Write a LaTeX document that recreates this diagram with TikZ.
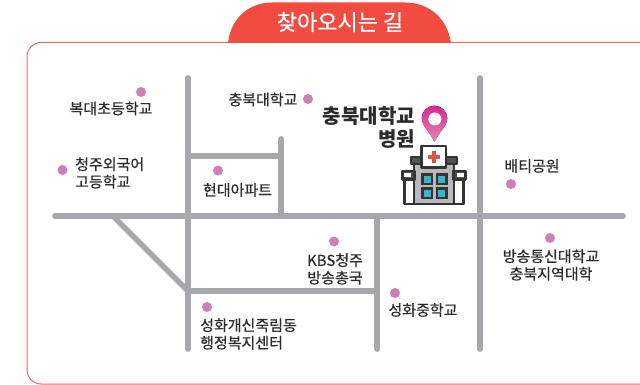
\documentclass[tikz,border=0pt]{standalone}
\usepackage{fontspec}
\setmainfont{Noto Sans CJK KR}
\newfontfamily\medfont[FakeBold=0.5]{Noto Sans CJK KR}
\definecolor{roadc}{HTML}{A7A8AC}
\definecolor{redc}{HTML}{F24C40}
\definecolor{edgec}{HTML}{F4675C}
\definecolor{dotc}{HTML}{CE7FB8}
\definecolor{inkc}{HTML}{2B2B2B}
\definecolor{iconc}{HTML}{333434}
\definecolor{pinA}{HTML}{D6268F}
\definecolor{pinB}{HTML}{E58AB0}
\definecolor{tealc}{HTML}{3FB2C9}
\definecolor{crossc}{HTML}{D9534F}
\tikzset{
 road/.style={draw=roadc,line width=5.6pt,line cap=round},
 placedot/.style={circle,fill=dotc,inner sep=0pt,minimum size=10pt},
 lbl/.style={font=\medfont\fontsize{15}{17.5}\selectfont,text=inkc,align=center,inner sep=0pt},
 iconline/.style={draw=iconc,line width=2.4pt,line join=round},
 win/.style={fill=tealc,draw=iconc,line width=2.6pt}
}
\begin{document}
\begin{tikzpicture}[x=1pt,y=-1pt]
\useasboundingbox (0,0) rectangle (640,385);
\fill[white] (0,0) rectangle (640,385);
\draw[edgec,line width=1pt] (640,42.5) -- (41,42.5) arc[start angle=270,end angle=180,radius=14] -- (27,370) arc[start angle=180,end angle=90,radius=14] -- (640,384);
\fill[redc] (228,43) .. controls (231,17) and (250,2.5) .. (272,2.5) -- (405,2.5) .. controls (428,2.5) and (447,17) .. (451,43) -- cycle;
\node[font=\medfont\fontsize{22}{24}\selectfont,text=white,inner sep=0pt] (title) at (340,22) {찾아오시는 길};
% roads
\coordinate (rA) at (188,78); \coordinate (rB) at (188,349);
\coordinate (rC) at (480,78); \coordinate (rD) at (480,349);
\coordinate (rE) at (55,216); \coordinate (rF) at (623,216);
\coordinate (rG) at (188,156); \coordinate (rH) at (281,156);
\coordinate (rI) at (281,139); \coordinate (rJ) at (281,216);
\coordinate (rK) at (188,291); \coordinate (rL) at (377,291);
\coordinate (rM) at (377,216); \coordinate (rN) at (377,349);
\coordinate (rO) at (113,216);
\draw[road] (rA) -- (rB);
\draw[road] (rC) -- (rD);
\draw[road] (rE) -- (rF);
\draw[road] (rG) -- (rH);
\draw[road] (rI) -- (rJ);
\draw[road] (rK) -- (rL);
\draw[road] (rM) -- (rN);
\draw[road,line cap=butt] (rO) -- (rK);
% places
\node[placedot] (d1) at (141,92) {};
\node[lbl] (t1) at (111,108.5) {복대초등학교};
\node[placedot] (d2) at (62.5,170) {};
\node[lbl,align=left,anchor=west] (t2) at (75,173) {청주외국어\\고등학교};
\node[placedot] (d3) at (308,99) {};
\node[lbl] (t3) at (263,99.5) {충북대학교};
\node[placedot] (d4) at (218,170.5) {};
\node[lbl] (t4) at (237.5,190) {현대아파트};
\node[placedot] (d5) at (511,184) {};
\node[lbl] (t5) at (532,166) {배티공원};
\node[placedot] (d6) at (334,241.5) {};
\node[lbl] (t6) at (335,269) {KBS청주\\방송총국};
\node[placedot] (d7) at (550,238) {};
\node[lbl] (t7) at (551,265) {방송통신대학교\\충북지역대학};
\node[placedot] (d8) at (395,293) {};
\node[lbl] (t8) at (423,310) {성화중학교};
\node[placedot] (d9) at (207,307) {};
\node[lbl,align=left,anchor=west] (t9) at (200,334) {성화개신죽림동\\행정복지센터};
\node[font=\bfseries\fontsize{20}{23}\selectfont,text=inkc,align=right,inner sep=0pt,anchor=east] (main) at (415,127) {충북대학교\\병원};
% pin
\fill[top color=pinA,bottom color=pinB] (434.5,142) .. controls (429,130) and (421.7,126) .. (421.7,118.5) arc[start angle=180,end angle=360,radius=12.8] .. controls (447.3,126) and (440,130) .. (434.5,142) -- cycle;
\fill[white] (434.8,119) circle (6.5pt);
% hospital
\draw[iconline,fill=white] (404.5,178) rectangle (463.5,204);
\fill[roadc!80] (414,162) rectangle (454,203);
\draw[iconline,fill=iconc!85] (402.5,171) rectangle (415,179.5);
\draw[iconline,fill=iconc!85] (453,171) rectangle (465.5,179.5);
\fill[white] (404,173.5) rectangle (411,177);
\fill[white] (457,173.5) rectangle (464,177);
\draw[iconline,fill=iconc!85] (411,157) rectangle (457,164);
\draw[iconline] (414,164) -- (414,204);
\draw[iconline] (454,164) -- (454,204);
\draw[iconline,fill=white] (421.5,146) rectangle (446,167.5);
\fill[crossc] (431.7,151) rectangle (435.7,163);
\fill[crossc] (427.7,155) rectangle (439.7,159);
\draw[win] (422.5,174.5) rectangle (432,184);
\draw[win] (437,174.5) rectangle (446.5,184);
\draw[win] (422.5,188.5) rectangle (432,198);
\draw[win] (437,188.5) rectangle (446.5,198);
\end{tikzpicture}
\end{document}
